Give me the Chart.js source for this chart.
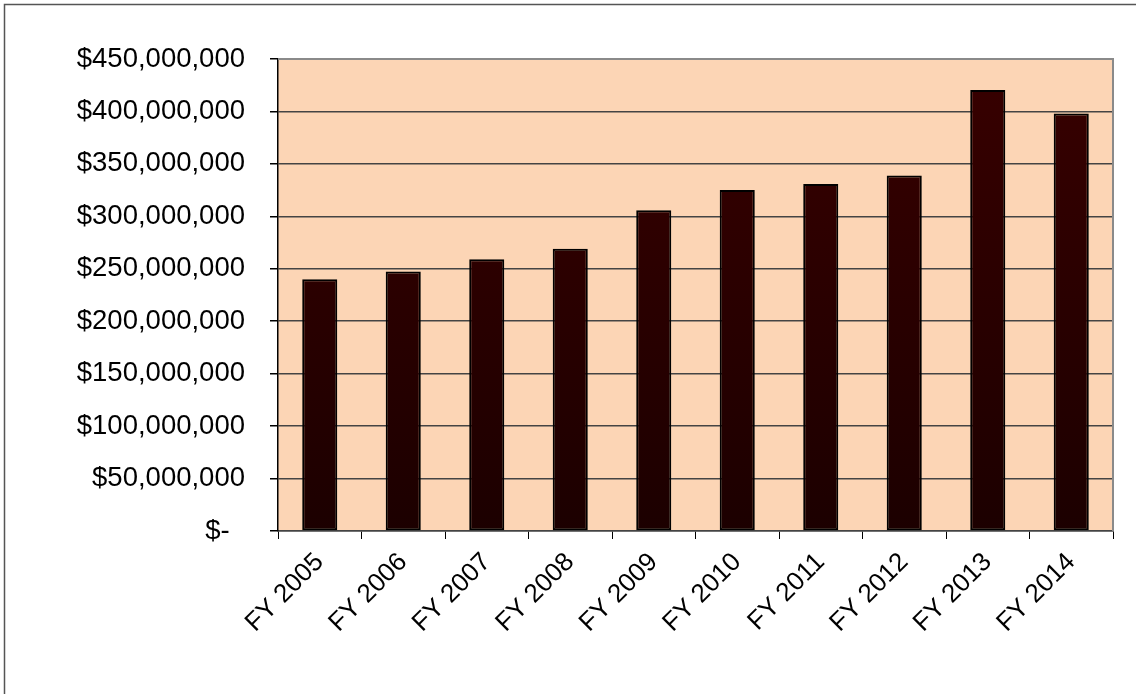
<!DOCTYPE html>
<html>
<head>
<meta charset="utf-8">
<script src="https://cdn.jsdelivr.net/npm/chart.js@4/dist/chart.umd.min.js"></script>
<style>
  html, body { margin: 0; padding: 0; background: #ffffff; }
  #wrap { width: 1136px; height: 694px; position: relative; }
</style>
</head>
<body>
<div id="wrap"><canvas id="c" width="1136" height="694"></canvas></div>
<script>
// Annual funding by fiscal year
const categories = ['FY 2005', 'FY 2006', 'FY 2007', 'FY 2008', 'FY 2009',
                    'FY 2010', 'FY 2011', 'FY 2012', 'FY 2013', 'FY 2014'];
const amounts = [240000000, 247500000, 259000000, 269000000, 305700000,
                 325000000, 330800000, 339000000, 420500000, 398000000];
const yTicks = { min: 0, max: 450000000, step: 50000000 };

const FAMILY = '"Liberation Sans", Arial, sans-serif';
const X_FONT = { family: FAMILY, size: 26 };
const Y_FONT = { family: FAMILY, size: 27.5 };

function money(v) {
  if (v === 0) return '$-  ';
  return '$' + Math.round(v).toLocaleString('en-US');
}

// Dark maroon bars fading slightly toward the base
function barFill(ctx) {
  const chart = ctx.chart;
  const area = chart.chartArea;
  if (!area) return '#300000';
  const g = chart.ctx.createLinearGradient(0, area.top, 0, area.bottom);
  g.addColorStop(0, '#380000');
  g.addColorStop(1, '#1c0000');
  return g;
}

// Peach plot background plus the frame lines around the chart
const frame = {
  id: 'frame',
  beforeDraw(chart) {
    const { ctx, chartArea: a } = chart;
    ctx.save();
    ctx.fillStyle = '#fcd5b5';
    ctx.fillRect(a.left, a.top, a.right - a.left, a.bottom - a.top);
    ctx.restore();
  },
  afterDraw(chart) {
    const { ctx, chartArea: a } = chart;
    ctx.save();
    ctx.strokeStyle = '#8a8a8a';
    ctx.lineWidth = 2;
    ctx.beginPath();
    ctx.moveTo(a.left, a.top);
    ctx.lineTo(a.right, a.top);
    ctx.lineTo(a.right, a.bottom);
    ctx.stroke();
    // outer chart border
    ctx.strokeStyle = '#555555';
    ctx.lineWidth = 1.5;
    ctx.beginPath();
    ctx.moveTo(4.5, 694);
    ctx.lineTo(4.5, 4.5);
    ctx.lineTo(1136, 4.5);
    ctx.stroke();
    ctx.restore();
  }
};

new Chart(document.getElementById('c'), {
  type: 'bar',
  data: {
    labels: categories,
    datasets: [{
      data: amounts,
      backgroundColor: barFill,
      borderColor: '#000000',
      borderWidth: 2,
      borderSkipped: false,
      barPercentage: 0.42,
      categoryPercentage: 1.0
    }]
  },
  options: {
    responsive: false,
    animation: false,
    devicePixelRatio: 1,
    layout: { padding: { left: 0, top: 59, right: 23, bottom: 0 } },
    plugins: { legend: { display: false }, tooltip: { enabled: false } },
    scales: {
      x: {
        grid: { display: true, drawOnChartArea: false, drawTicks: true, tickLength: 8, color: '#000000', offset: true },
        border: { display: true, color: '#444444', width: 1.5 },
        ticks: { color: '#000000', font: X_FONT, minRotation: 45, maxRotation: 45, padding: 8, autoSkip: false },
        afterFit(scale) { scale.height = 163; }
      },
      y: {
        min: yTicks.min,
        max: yTicks.max,
        grid: { color: '#444444', lineWidth: 1.5, tickLength: 8, tickColor: '#000000' },
        border: { display: true, color: '#000000', width: 1.5 },
        ticks: { stepSize: yTicks.step, color: '#000000', font: Y_FONT, padding: 25, callback: money },
        afterFit(scale) { scale.width = 278; }
      }
    }
  },
  plugins: [frame]
});
</script>
</body>
</html>
